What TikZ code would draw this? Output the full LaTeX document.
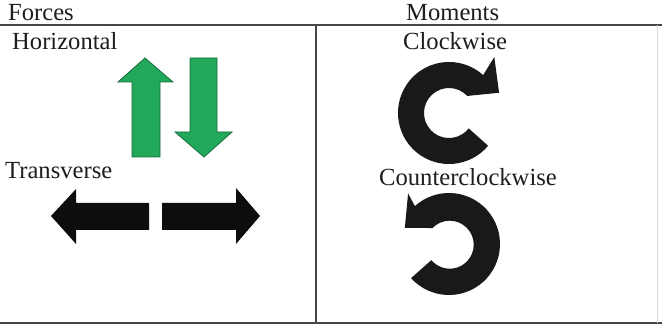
\documentclass[tikz,border=0pt]{standalone}
\usepackage{fontspec}
\setmainfont{Liberation Serif}
\definecolor{fgreen}{RGB}{34,168,90}
\definecolor{fgreendark}{RGB}{25,110,60}
\definecolor{txt}{RGB}{30,30,30}
\definecolor{rule}{RGB}{70,70,70}
\begin{document}
\begin{tikzpicture}[x=1pt,y=-1pt,
  lbl/.style={anchor=base west,inner sep=0pt,text=txt,font=\fontsize{24.6}{29}\selectfont},
  greenarrow/.style={fill=fgreen,draw=fgreendark,line width=0.8pt,line join=miter},
  blackarrow/.style={fill=black!95,draw=none},
  moment/.style={fill=black!90,draw=none},
  rulel/.style={draw=rule,line width=2pt}]
\useasboundingbox (0,0) rectangle (662,328);
\fill[white] (0,0) rectangle (662,328);
% table rules
\draw[rulel] (0,25) -- (662,25);
\draw[rulel] (0,323.5) -- (662,323.5);
\draw[draw=rule,line width=1.8pt] (316,25) -- (316,323.5);
\draw[draw=black!15,line width=1pt] (657.5,25) -- (657.5,323);
% texts
\node[lbl] (forces) at (8,20.7) {Forces};
\node[lbl] (moments) at (406,21) {Moments};
\node[lbl] (horiz) at (12,50) {Horizontal};
\node[lbl] (clock) at (403,50) {Clockwise};
\node[lbl] (trans) at (5,179) {Transverse};
\node[lbl] (cclock) at (379,186) {Counterclockwise};
% green arrows
\draw[greenarrow] (145,58) -- (173,82) -- (160,82) -- (160,157) -- (132,157) -- (132,82) -- (118,82) -- cycle;
\draw[greenarrow] (204,157) -- (232,132) -- (217,132) -- (217,58) -- (190,58) -- (190,132) -- (175,132) -- cycle;
% black arrows
\fill[blackarrow] (51,216) -- (76,189) -- (76,203) -- (149,203) -- (149,230) -- (76,230) -- (76,244) -- cycle;
\fill[blackarrow] (260,216) -- (236,188) -- (236,203) -- (162,203) -- (162,230) -- (236,230) -- (236,244) -- cycle;
% clockwise moment
\begin{scope}[shift={(449pt,-113pt)},x=1pt,y=1pt]
\fill[moment] (-40:51) arc[start angle=-40,end angle=-312,radius=51] -- (51:72) -- (22:54) -- (43:25)
  arc[start angle=43,end angle=322,radius=25] -- cycle;
\end{scope}
% counterclockwise moment
\begin{scope}[shift={(449pt,-244pt)},x=1pt,y=1pt,xscale=-1]
\fill[moment] (-42:51) arc[start angle=-42,end angle=-312,radius=51] -- (51:65) -- (20:47) -- (44:23)
  arc[start angle=44,end angle=320,radius=24] -- cycle;
\end{scope}
\end{tikzpicture}
\end{document}
